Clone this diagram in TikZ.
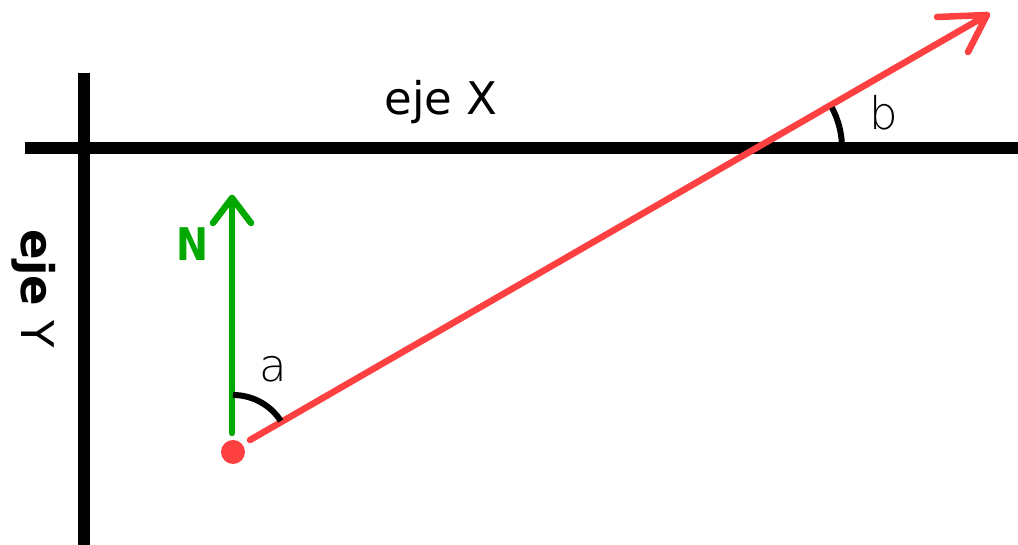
\documentclass[tikz,border=0pt]{standalone}
\usepackage{fontspec}
\setmainfont{DejaVu Sans}
\newfontfamily\thinfont{DejaVu Sans ExtraLight}
\definecolor{redline}{RGB}{255,64,64}
\definecolor{greenline}{RGB}{0,168,0}
\tikzset{
  axisline/.style={line width=12.5pt, black},
  redvec/.style={line width=6.5pt, redline, line cap=round, line join=round},
  greenvec/.style={line width=6.5pt, greenline, line cap=round, line join=round},
  anglearc/.style={line width=6pt, black},
  bigtext/.style={inner sep=0pt, font=\fontsize{45}{54}\selectfont},
}
\begin{document}
\begin{tikzpicture}[x=1pt,y=1pt]
\useasboundingbox (0,0) rectangle (1018,545);
% axes
\coordinate (xl) at (25,397);
\coordinate (xr) at (1030,397);
\coordinate (yt) at (84,472);
\coordinate (yb) at (84,-10);
\draw[axisline] (xl) -- (xr);
\draw[axisline] (yt) -- (yb);
% axis labels
\node[bigtext, anchor=base] (ejex) at (441,430) {eje X};
\node[bigtext, anchor=base, rotate=-90] (ejey) at (21,256) {\textbf{eje} Y};
% origin dot
\node[circle, fill=redline, minimum size=24pt, inner sep=0pt] (dot) at (233,93) {};
% red vector
\coordinate (rs) at (250,105);
\coordinate (rt) at (987,530);
\coordinate (ra1) at (937,528);
\coordinate (ra2) at (968,493);
\draw[redvec] (rs) -- (rt);
\draw[redvec] (ra1) -- (rt) -- (ra2);
% green vector (North)
\coordinate (gs) at (232,112);
\coordinate (gt) at (232,347);
\coordinate (ga1) at (213,322);
\coordinate (ga2) at (251,322);
\draw[greenvec] (gs) -- (gt);
\draw[greenvec] (ga1) -- (gt) -- (ga2);
\node[bigtext, anchor=base, text=greenline, xscale=0.85] (nlab) at (192.5,284) {\textbf{N}};
% angle a
\coordinate (ca) at (233,93);
\draw[anglearc] ([shift={(90:57)}]ca) arc[start angle=90, end angle=33, radius=57];
\node[bigtext, anchor=base] (alab) at (273.5,163) {\thinfont a};
% angle b
\coordinate (cb) at (756,397);
\draw[anglearc] ([shift={(28:86)}]cb) arc[start angle=28, end angle=3, radius=86];
\node[bigtext, anchor=base] (blab) at (884,415) {\thinfont b};
\end{tikzpicture}
\end{document}
